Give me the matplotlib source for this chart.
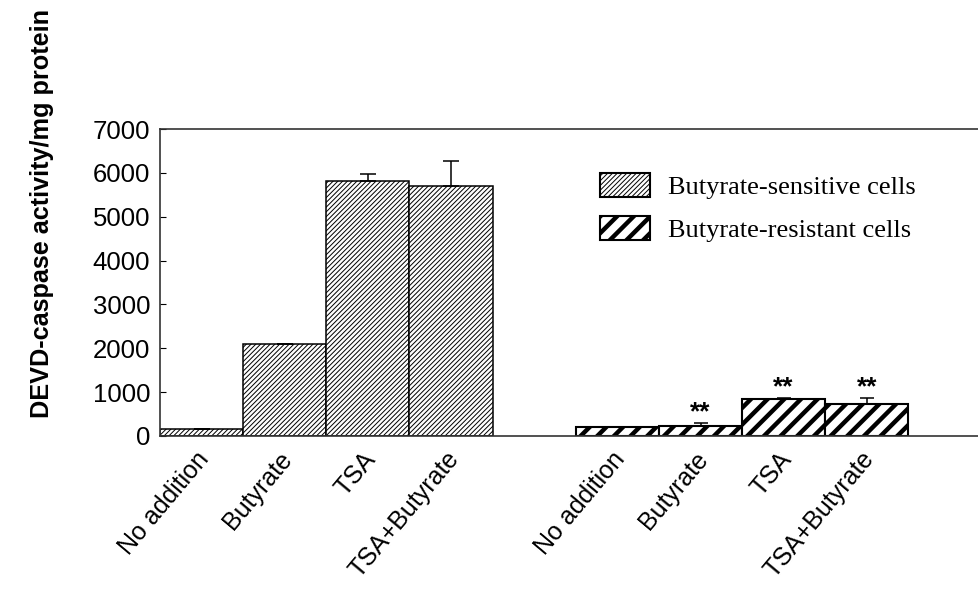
import numpy as np
import matplotlib.pyplot as plt
import matplotlib.transforms as mtransforms

plt.rcParams['font.family'] = ['Liberation Sans', 'DejaVu Sans']

conditions = ['No addition', 'Butyrate', 'TSA', 'TSA+Butyrate']
sensitive = [150, 2100, 5820, 5690]
sensitive_err = [0, 0, 150, 585]
resistant = [198, 235, 837, 730]
resistant_err = [0, 68, 23, 136]
resistant_marks = ['', '**', '**', '**']

fig = plt.figure(figsize=(9.79, 5.91), dpi=100)
ax = fig.add_axes([0.1634, 0.2623, 0.858, 0.5194])

x1 = np.arange(4)
x2 = np.arange(4) + 5

b1 = ax.bar(x1, sensitive, width=1.0, color='white', edgecolor='black',
            linewidth=1.1, hatch='///////', label='Butyrate-sensitive cells')
b2 = ax.bar(x2, resistant, width=1.0, color='white', edgecolor='black',
            linewidth=1.5, hatch='//', label='Butyrate-resistant cells')
for p in b1.patches:
    p.set_hatch_linewidth(0.7)
for p in b2.patches:
    p.set_hatch_linewidth(3.2)

ax.errorbar(x1, sensitive, yerr=[np.zeros(4), sensitive_err], fmt='none',
            ecolor='black', elinewidth=1.1, capsize=5.5, capthick=1.1)
ax.errorbar(x2, resistant, yerr=[np.zeros(4), resistant_err], fmt='none',
            ecolor='black', elinewidth=1.1, capsize=5, capthick=1.1)

for xi, v, e, m in zip(x2, resistant, resistant_err, resistant_marks):
    if m:
        ax.annotate(m, (xi, v + e), xytext=(0, -1), textcoords='offset points',
                    ha='center', va='bottom', fontsize=19, fontweight='bold')

ax.set_xlim(-0.5, 9.6)
ax.set_ylim(0, 7000)
ax.set_yticks(range(0, 7001, 1000))
ax.tick_params(axis='y', direction='in', length=4, labelsize=18.5, pad=7)
ax.set_xticks(list(x1) + list(x2))
ax.set_xticklabels(conditions + conditions, rotation=50, ha='right',
                   rotation_mode='anchor', fontsize=18)
ax.tick_params(axis='x', length=0, pad=8)
shift = mtransforms.ScaledTranslation(-6 / 100, 0, fig.dpi_scale_trans)
for lab in ax.get_xticklabels():
    lab.set_transform(lab.get_transform() + shift)
for s in ax.spines.values():
    s.set_linewidth(1.2)
    s.set_color('#333333')

fig.text(0.043, 0.639, 'DEVD-caspase activity/mg protein', rotation=90,
         ha='center', va='center', fontsize=18.2, fontweight='bold')

leg = ax.legend(loc='upper left', bbox_to_anchor=(0.613, 0.707),
                bbox_transform=fig.transFigure, frameon=False,
                prop={'family': 'Liberation Serif', 'size': 19},
                handlelength=1.9, handleheight=1.0, handletextpad=0.68,
                labelspacing=0.65, borderpad=0, borderaxespad=0)
for h, hw in zip(leg.legend_handles, [0.7, 3.2]):
    h.set_hatch_linewidth(hw)
    h.set_linewidth(1.5)

plt.savefig('out.png', dpi=100)
